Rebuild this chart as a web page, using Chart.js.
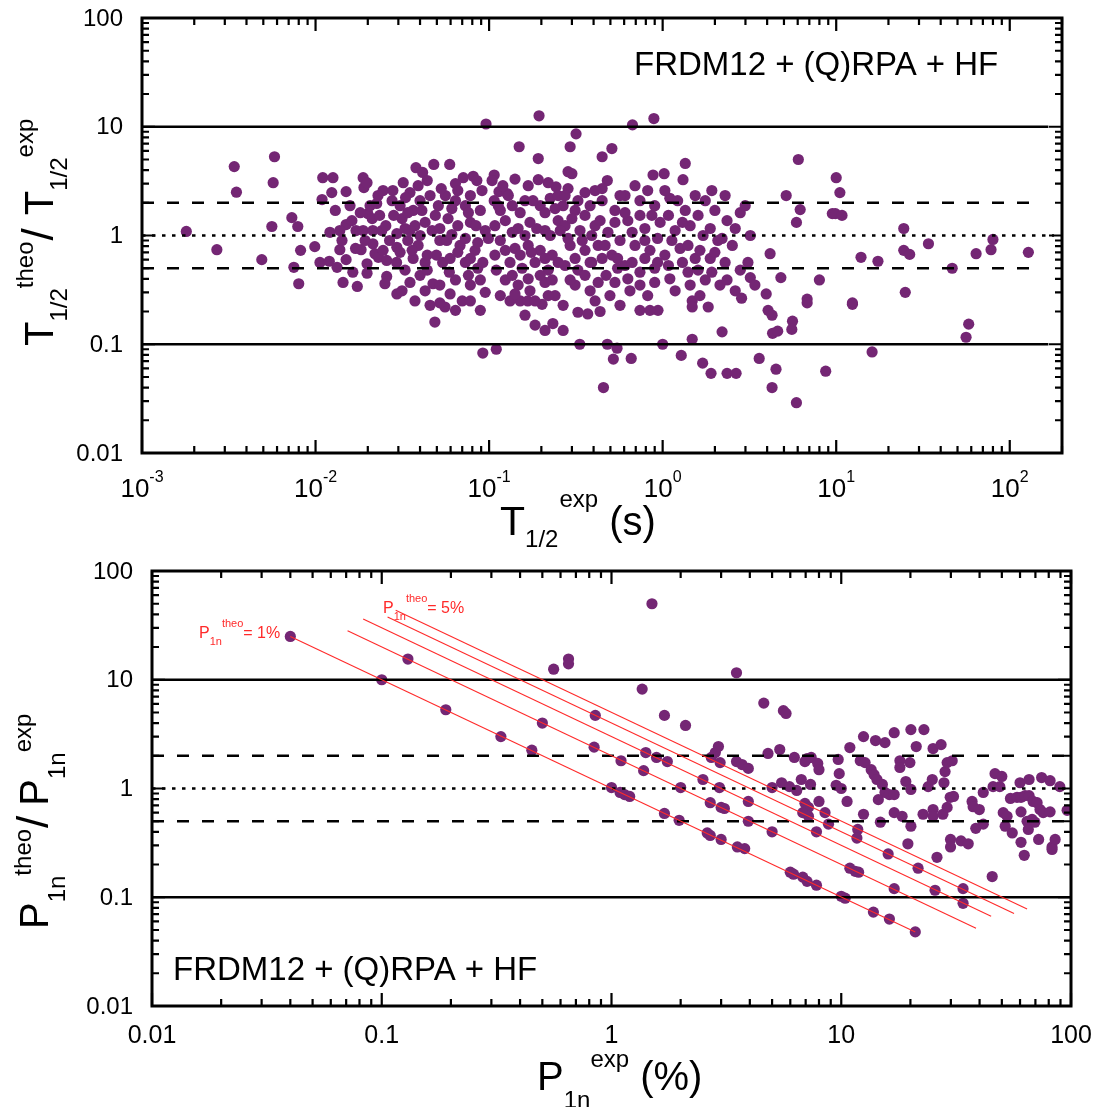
<!DOCTYPE html>
<html><head><meta charset="utf-8">
<script src="https://cdn.jsdelivr.net/npm/chart.js@4.4.1/dist/chart.umd.min.js"></script>
<style>
html,body{margin:0;padding:0;background:#fff;}
#wrap{position:relative;width:1101px;height:1107px;overflow:hidden;}
.pane{position:absolute;left:0;width:1101px;}
</style></head><body>
<div id="wrap">
<div class="pane" style="top:0;height:550px"><canvas id="c1" width="1101" height="550"></canvas></div>
<div class="pane" style="top:550px;height:557px"><canvas id="c2" width="1101" height="557"></canvas></div>
</div>
<script>
const FONT = '"Liberation Sans", Arial, Helvetica, sans-serif';
const PURPLE = '#742674';
const RED = '#ff2a2a';

// ---------- Top panel: T1/2 ----------
const t12Exp = [
0.0018,0.0027,0.0034,0.0035,0.0049,0.0057,0.0058,0.0056,0.0073,0.0079,0.0075,0.0080,0.0082,0.0099,
0.0106,0.0120,0.0133,0.0109,0.0110,0.0126,0.0124,0.0150,0.0150,0.0138,0.0142,0.0150,0.0174,0.0183,0.0188,0.0190,0.0198,
0.0171,0.0188,0.0198,0.0198,0.0214,0.0241,0.0200,0.0206,0.0225,0.0245,0.0279,0.0276,0.0214,0.0220,0.0230,0.0245,0.0257,0.0257,0.0294,0.0294,0.0294,
0.096,0.194,0.317,0.293,0.149,0.192,0.448,0.51,0.67,0.89,1.35,1.31,0.88,1.02,
0.0379,0.0414,0.0480,0.0593,0.107,0.192,0.285,0.30,0.285,0.243,0.48,0.357,0.448,0.071,0.081,0.085,0.064,0.114,0.107,0.127,0.035,0.033,
6.05,10.0,10.5,5.15,6.2,5.9,9.5,9.9,10.8,3.2,4.16,3.2,4.8,3.95,6.8,8.0,12.4,13.9,17.4,24.5,24.5,26.5,34,25,46.6,64,78,80,128,
4.05,4.27,6.8,12.4,5.6,5.55,4.3,4.6,3.6,4.5,4.27,5.9,8.7,16.1,58,56,
0.0557,0.0487,0.092,0.11,0.151,0.167,0.202,0.267,0.325,0.37,0.436,0.233,0.21,0.267,0.333,0.48,0.546,0.52,0.659,0.456,0.94,1.0,1.28,1.48,1.48,1.83,1.48,1.70,1.90,2.2,2.35,2.65,
0.0307,0.0365,0.040,0.0457,0.051,0.0315,0.0374,0.0428,0.047,0.052,0.034,0.039,0.0307,0.0365,0.0428,0.0497,0.0328,0.040,0.0475,0.0315,0.0374,0.052,0.044,0.035,
0.056,0.064,0.073,0.089,0.058,0.066,0.078,0.095,0.057,0.068,0.083,0.099,0.0596,0.073,0.086,0.064,0.078,0.095,0.070,0.089,0.059,
0.116,0.136,0.161,0.197,0.225,0.124,0.147,0.172,0.21,0.25,0.116,0.141,0.168,0.197,0.231,0.132,0.155,0.184,0.219,0.124,0.147,0.172,0.21,0.24,0.132,
0.267,0.313,0.382,0.448,0.531,0.274,0.334,0.408,0.484,0.293,0.357,0.425,0.51,0.274,0.325,0.39,0.472,0.55,0.313,0.382,0.497,
0.607,0.74,0.90,1.10,1.35,0.63,0.79,0.967,1.18,1.44,0.693,0.845,1.03,1.26,1.54,0.607,0.74,0.90,1.10,1.40,0.648,0.82,0.74,
1.76,2.0,2.35,2.8,1.71,2.08,2.52,1.88,2.29,2.8,1.76,2.14,2.62,1.92,
0.0130,0.0138,0.0158,0.0162,0.0170,0.0181,0.0193,0.0212,0.0234,0.0254,0.0267,0.0282,0.0293,0.0251,0.0229,0.0164,0.0144,0.0121,
0.032,0.039,0.044,0.053,0.066,0.078,0.091,0.034,0.041,0.049,0.061,0.076,0.084,0.0328,0.040,0.052,0.061,0.073,0.086,
0.036,0.044,0.054,0.066,0.078,0.092,0.035,0.0428,0.052,0.0596,0.076,0.089,0.0457,0.064,0.078,
0.104,0.12,0.141,0.168,0.219,0.25,0.113,0.129,0.151,0.179,0.21,0.24,0.108,0.136,0.161,0.188,0.225,0.257,
0.108,0.124,0.151,0.175,0.21,0.25,0.11,0.136,0.168,0.197,0.231,0.116,0.141,0.184,0.219,0.161,0.184,
0.274,0.325,0.408,0.568,0.693,0.82,0.30,0.357,0.436,0.531,0.607,0.74,0.867,0.285,0.344,0.39,0.466,0.568,0.667,0.79,0.935,
0.313,0.382,0.448,0.55,0.667,0.79,0.935,0.293,0.357,0.425,0.531,0.63,0.74,0.90,0.408,0.568,0.845,
1.03,1.22,1.54,2.29,2.99,1.08,1.30,1.60,1.88,2.2,2.62,1.13,1.40,1.64,2.0,3.1,1.08,1.30,1.60,1.92,2.35,1.18,1.44,1.64,2.85,3.4
];
const t12Ratio = [
1.09,0.74,4.3,2.5,0.60,3.06,5.3,1.21,1.46,1.21,0.51,0.36,0.73,0.79,
0.565,0.58,0.51,2.14,3.4,3.4,2.48,2.53,1.26,0.74,0.90,0.60,0.34,0.74,3.4,2.76,3.06,
1.11,1.11,0.55,0.45,1.11,1.11,1.59,1.88,1.97,2.59,2.59,2.09,0.84,0.68,0.63,0.73,0.59,0.42,0.29,1.04,0.78,
10.6,12.6,8.6,6.55,6.55,5.1,5.3,6.3,10.4,11.9,4.6,3.26,3.6,3.7,
4.2,3.8,4.5,4.5,3.6,3.26,3.86,3.7,2.7,2.8,3.2,2.48,2.7,3.4,3.5,3.2,3.0,2.53,2.09,2.43,2.48,2.23,
5.0,3.4,2.48,2.33,1.73,1.32,1.59,1.59,1.53,1.0,0.68,0.41,0.41,0.29,0.26,0.39,0.24,0.63,0.58,1.16,0.73,0.67,0.84,0.30,0.50,0.68,0.74,0.92,0.70,
0.205,0.185,0.24,0.233,0.163,0.137,0.126,0.132,0.074,0.059,0.040,0.029,0.0565,0.085,0.153,0.116,
0.22,0.16,0.083,0.09,0.25,0.25,0.233,0.228,0.197,0.19,0.20,0.155,0.134,0.134,0.10,0.10,0.092,0.073,0.074,0.040,0.205,0.10,0.079,0.25,0.22,0.22,0.111,0.067,0.054,0.13,0.054,0.054,
1.88,1.70,2.09,2.33,1.88,1.43,1.23,1.32,1.11,0.90,0.90,0.81,0.70,0.615,0.565,0.66,0.48,0.43,0.36,0.31,0.25,0.24,0.48,1.11,
2.33,2.09,1.88,1.70,1.43,1.23,1.32,1.11,0.90,0.81,0.73,0.94,0.615,0.565,0.50,0.39,0.35,0.30,0.25,0.205,0.46,
1.70,1.88,2.09,1.88,2.2,1.37,1.16,1.32,1.11,1.37,0.90,0.76,0.81,0.73,0.66,0.565,0.50,0.565,0.48,0.39,0.35,0.31,0.37,0.28,0.25,
1.88,1.70,1.88,2.09,1.70,1.23,1.11,1.23,1.07,0.81,0.73,0.81,0.66,0.53,0.48,0.565,0.43,0.50,0.35,0.31,0.28,
2.33,2.09,1.88,2.2,1.70,1.37,1.16,1.32,1.11,1.23,0.81,0.73,0.66,0.76,0.615,0.53,0.46,0.50,0.40,0.46,0.31,0.28,0.205,
2.09,1.70,1.37,1.62,1.0,0.90,0.81,0.615,0.565,0.48,0.39,0.35,0.31,2.59,
1.70,1.11,1.88,1.37,0.76,1.62,0.90,1.43,1.53,1.23,0.90,1.53,0.565,0.36,2.33,0.46,0.37,1.07,
3.06,2.87,3.2,2.7,2.59,2.33,2.59,1.62,1.70,1.53,1.77,1.62,1.23,1.16,1.0,1.16,1.02,0.94,0.86,
0.73,0.66,0.565,0.70,0.615,0.565,0.37,0.31,0.35,0.29,0.43,0.39,0.228,0.205,0.25,
3.2,2.87,3.3,2.87,3.06,2.33,1.88,2.33,1.62,2.09,1.62,1.77,1.23,1.07,1.0,1.16,1.0,1.11,
0.66,0.73,0.66,0.70,0.615,0.565,0.48,0.43,0.40,0.43,0.39,0.28,0.29,0.25,0.28,0.185,0.15,
2.33,2.09,2.59,2.33,2.87,2.59,1.43,1.53,1.37,1.32,1.62,1.53,1.53,0.94,0.90,1.0,0.81,0.90,1.07,0.90,0.94,
0.615,0.565,0.615,0.615,0.565,0.615,0.565,0.39,0.43,0.37,0.37,0.40,0.35,0.37,0.25,0.228,0.205,
2.59,2.09,2.33,2.33,1.88,1.53,1.32,1.53,1.16,0.94,1.16,0.90,0.81,0.73,0.70,0.565,0.53,0.565,0.48,0.46,0.39,0.31,0.35,0.28,0.265,0.35
];

// ---------- Bottom panel: P1n ----------
const p1nExp = [
0.040,0.10,0.13,0.19,0.33,0.45,0.50,0.56,0.65,0.65,0.85,0.84,1.0,1.09,1.14,1.2,1.1,1.36,1.41,1.38,1.57,1.75,1.7,1.5,2.1,1.7,1.97,2.0,
2.5,2.72,2.83,2.92,2.97,2.95,2.69,3.0,3.1,2.61,2.69,3.0,3.5,3.5,3.7,3.94,3.94,3.94,3.53,3.8,
4.6,5.6,5.75,4.8,5.4,6.25,5.0,5.5,5.95,6.4,5.0,6.7,6.95,7.1,7.4,7.9,8.0,7.35,6.95,7.2,8.0,6.8,7.2,8.5,8.8,7.8,
9.7,9.8,9.5,10,10.6,10.9,12.5,14.1,15.5,17.0,20.1,22.9,21.2,25.1,27.2,12.1,12.7,13.5,13.9,14.3,15.1,15.5,16.2,17.0,14.5,12.5,11.8,11.7,14.8,17.0,18.4,
18.0,18.0,19.9,19.1,20.1,20.1,19.5,22.7,25.1,25.1,23.9,24.9,27.7,28.3,28.9,30.4,28.0,29.8,30.8,28.9,29.9,29.9,33.2,35.7,37.1,37.5,39.9,41.5,38.5,41.5,
46.7,50.0,45.8,49.0,50.7,52.7,51.7,55.5,60.6,54.5,58.2,60.6,63.1,65.7,68.4,71.2,60.0,65.7,60.6,64.4,67.7,69.6,65.2,73.3,75.7,81.1,74.5,81.1,72.3,82.7,85.3,89.4,96.2,
6.0,6.2,6.8,7.1,7.8,10.0,10.4,13.8,16.2,21.0,10.9,11.5,11.9,17.0,16.0,21.6,26.1,25.6,33.9,33.9,45.4,62.6,82.7
];
const p1nRatio = [
25,10,15.5,5.3,3.0,2.25,4.0,12.5,15.5,14.0,4.7,2.4,1.02,0.92,0.88,0.845,1.8,8.2,2.14,1.46,1.93,1.77,4.7,50,3.8,0.59,0.51,1.02,
1.21,1.93,2.14,2.43,1.73,1.02,0.74,0.67,0.655,0.39,0.37,0.34,11.6,1.77,1.66,1.53,0.76,0.50,0.29,0.28,
6.1,5.2,4.9,2.1,2.28,1.93,1.02,1.13,1.04,0.96,0.40,1.21,1.77,1.88,1.93,1.70,1.49,1.09,0.73,0.67,0.76,0.60,0.555,0.60,0.47,0.40,
1.85,1.37,1.07,1.0,0.76,2.38,3.0,2.76,2.64,3.26,3.48,3.48,2.43,2.33,2.53,1.8,1.73,1.49,1.34,1.21,1.09,0.92,0.88,0.88,0.79,0.58,0.42,0.35,0.49,0.60,0.555,
1.8,1.56,1.73,1.16,0.98,0.45,0.31,0.58,0.64,0.555,1.04,1.21,0.58,1.43,1.73,1.8,1.13,0.83,0.845,0.67,0.34,0.29,0.33,0.31,0.76,0.68,0.64,0.92,0.43,0.47,
1.37,1.29,1.04,1.04,0.60,0.555,0.45,0.39,0.32,0.81,0.83,0.83,0.86,0.86,0.76,0.74,1.13,1.21,0.61,0.50,0.52,0.49,0.42,0.64,0.60,0.61,1.26,1.18,0.34,0.29,0.34,1.04,0.63,
0.17,0.163,0.153,0.14,0.129,0.102,0.098,0.073,0.063,0.048,0.185,0.173,0.17,0.12,0.25,0.185,0.233,0.116,0.12,0.088,0.155,0.243,0.275
];

// constant P1n(theo) guide lines (start / end of each drawn segment)
const p1nTheoLevel = ['1%','2%','3%','4%','5%'];
const p1nTheoX0 = [0.040, 0.071, 0.083, 0.106, 0.115];
const p1nTheoY0 = [25, 28.2, 36.1, 37.7, 43.5];
const p1nTheoX1 = [21, 38.6, 44.9, 56.5, 64.4];
const p1nTheoY1 = [0.048, 0.052, 0.067, 0.071, 0.078];

// reference ratio levels
const refLevels = [10, 2, 1, 0.5, 0.1];
const refKinds  = ['solid', 'dash', 'dot', 'dash', 'solid'];
const refTopXEnd = [167, 140, 180, 140, 167];
const refBotXEnd = [100, 100, 100, 100, 100];

// axis ranges and tick labels
const topXRange = [0.001, 200];
const ratioRange = [0.01, 100];
const botXRange = [0.01, 100];
const topXTickVals = [0.001, 0.01, 0.1, 1, 10, 100];
const topXTickExp  = ['-3', '-2', '-1', '0', '1', '2'];
const ratioTickVals = [0.01, 0.1, 1, 10, 100];
const ratioTickText = ['0.01', '0.1', '1', '10', '100'];
const botXTickVals = [0.01, 0.1, 1, 10, 100];
const botXTickText = ['0.01', '0.1', '1', '10', '100'];

function pts(xs, ys) { return xs.map((v, i) => ({x: v, y: ys[i]})); }

function refDatasets(x0, xEnds) {
  return refLevels.map((lv, i) => ({
    type: 'scatter', showLine: true, order: 0,
    data: [{x: x0, y: lv}, {x: xEnds[i], y: lv}],
    borderColor: '#000', borderWidth: refKinds[i] === 'solid' ? 2.4 : 2.6,
    borderDash: refKinds[i] === 'dash' ? [12, 13] : (refKinds[i] === 'dot' ? [3.5, 6.5] : []),
    pointRadius: 0, fill: false, tension: 0
  }));
}

function logMarks(min, max) {
  const out = [];
  for (let e = Math.floor(Math.log10(min)) - 1; e <= Math.ceil(Math.log10(max)); e++) {
    for (let m = 1; m <= 9; m++) {
      const v = m * Math.pow(10, e);
      if (v >= min * 0.9999 && v <= max * 1.0001) out.push({v, major: m === 1});
    }
  }
  return out;
}

function rich(ctx, x, y, parts, rotate) {
  ctx.save();
  ctx.translate(x, y);
  if (rotate) ctx.rotate(-Math.PI / 2);
  ctx.textAlign = 'left';
  ctx.textBaseline = 'alphabetic';
  let u = 0;
  for (const p of parts) {
    ctx.font = p.size + 'px ' + FONT;
    ctx.fillStyle = p.color || '#000';
    u += p.gap || 0;
    ctx.fillText(p.t, u, p.dy || 0);
    u += ctx.measureText(p.t).width;
  }
  ctx.restore();
}
function richWidth(ctx, parts) {
  let w = 0;
  for (const p of parts) { ctx.font = p.size + 'px ' + FONT; w += (p.gap || 0) + ctx.measureText(p.t).width; }
  return w;
}

function drawFrame(chart) {
  const {ctx, chartArea: a, scales: {x, y}} = chart;
  ctx.save();
  ctx.strokeStyle = '#000';
  ctx.lineWidth = 2.2;
  ctx.beginPath();
  for (const t of logMarks(x.min, x.max)) {
    const px = x.getPixelForValue(t.v);
    const L = t.major ? 13 : 7;
    ctx.moveTo(px, a.bottom); ctx.lineTo(px, a.bottom - L);
    ctx.moveTo(px, a.top); ctx.lineTo(px, a.top + L);
  }
  for (const t of logMarks(y.min, y.max)) {
    const py = y.getPixelForValue(t.v);
    const L = t.major ? 13 : 7;
    ctx.moveTo(a.left, py); ctx.lineTo(a.left + L, py);
    ctx.moveTo(a.right, py); ctx.lineTo(a.right - L, py);
  }
  ctx.stroke();
  ctx.lineWidth = 3;
  ctx.strokeRect(a.left, a.top, a.right - a.left, a.bottom - a.top);
  ctx.restore();
}

function yTickLabels(chart, rightEdge) {
  const {ctx, scales: {y}} = chart;
  ctx.save();
  ctx.font = '24px ' + FONT;
  ctx.fillStyle = '#000';
  ctx.textAlign = 'right';
  ctx.textBaseline = 'middle';
  ratioTickVals.forEach((v, i) => ctx.fillText(ratioTickText[i], rightEdge, y.getPixelForValue(v) + 1));
  ctx.restore();
}

const baseOpts = (xr, pad) => ({
  responsive: false, animation: false, devicePixelRatio: 1, events: [],
  layout: {padding: pad},
  plugins: {legend: {display: false}, tooltip: {enabled: false}, title: {display: false}},
  scales: {
    x: {type: 'logarithmic', min: xr[0], max: xr[1], display: false},
    y: {type: 'logarithmic', min: ratioRange[0], max: ratioRange[1], display: false}
  }
});

// ---------- Chart 1 ----------
const topPlugin = {
  id: 'topDecor',
  afterDatasetsDraw(chart) {
    const ctx = chart.ctx, x = chart.scales.x;
    drawFrame(chart);
    yTickLabels(chart, 123);
    topXTickVals.forEach((v, i) => {
      const parts = [{t: '10', size: 26}, {t: topXTickExp[i], size: 16, dy: -15}];
      const w = richWidth(ctx, parts);
      rich(ctx, x.getPixelForValue(v) - w / 2, 497, parts, false);
    });
    rich(ctx, 500, 535, [{t: 'T', size: 41}, {t: '1/2', size: 24, dy: 12}, {t: 'exp', size: 24, dy: -28, gap: 1}, {t: ' (s)', size: 40}], false);
    rich(ctx, 53, 346, [{t: 'T', size: 40}, {t: '1/2', size: 24, dy: 14}, {t: 'theo', size: 24, dy: -20},
      {t: '/', size: 44, gap: 1}, {t: 'T', size: 40, gap: 13}, {t: '1/2', size: 24, dy: 14}, {t: 'exp', size: 24, dy: -20}], true);
    ctx.save();
    ctx.font = '33px ' + FONT; ctx.fillStyle = '#000'; ctx.textAlign = 'left'; ctx.textBaseline = 'alphabetic';
    ctx.fillText('FRDM12 + (Q)RPA + HF', 634, 75);
    ctx.restore();
  }
};

new Chart(document.getElementById('c1'), {
  type: 'scatter',
  data: {datasets: [
    ...refDatasets(topXRange[0], refTopXEnd),
    {type: 'scatter', order: 1, data: pts(t12Exp, t12Ratio), pointRadius: 5.6, pointBackgroundColor: PURPLE, pointBorderWidth: 0, showLine: false}
  ]},
  options: baseOpts(topXRange, {left: 142, right: 39, top: 18, bottom: 97}),
  plugins: [topPlugin]
});

// ---------- Chart 2 ----------
const botPlugin = {
  id: 'botDecor',
  afterDatasetsDraw(chart) {
    const ctx = chart.ctx, x = chart.scales.x;
    drawFrame(chart);
    yTickLabels(chart, 133);
    ctx.save();
    ctx.font = '25px ' + FONT; ctx.fillStyle = '#000'; ctx.textAlign = 'center'; ctx.textBaseline = 'alphabetic';
    botXTickVals.forEach((v, i) => ctx.fillText(botXTickText[i], x.getPixelForValue(v), 493));
    ctx.restore();
    rich(ctx, 537, 540, [{t: 'P', size: 40}, {t: '1n', size: 24, dy: 18}, {t: 'exp', size: 24, dy: -23}, {t: ' (%)', size: 40}], false);
    rich(ctx, 48, 379, [{t: 'P', size: 40}, {t: '1n', size: 24, dy: 17}, {t: 'theo', size: 24, dy: -17},
      {t: '/', size: 44, gap: 1}, {t: 'P', size: 40, gap: 10}, {t: '1n', size: 24, dy: 17}, {t: 'exp', size: 24, dy: -17}], true);
    ctx.save();
    ctx.font = '33px ' + FONT; ctx.fillStyle = '#000'; ctx.textAlign = 'left'; ctx.textBaseline = 'alphabetic';
    ctx.fillText('FRDM12 + (Q)RPA + HF', 173, 430);
    ctx.restore();
    rich(ctx, 199, 88, [{t: 'P', size: 16, color: RED}, {t: '1n', size: 11, dy: 7, color: RED}, {t: 'theo', size: 11, dy: -11, color: RED}, {t: '= 1%', size: 16, color: RED}], false);
    rich(ctx, 383, 63, [{t: 'P', size: 16, color: RED}, {t: '1n', size: 11, dy: 7, color: RED}, {t: 'theo', size: 11, dy: -11, color: RED}, {t: '= 5%', size: 16, color: RED}], false);
  }
};

const theoLines = p1nTheoLevel.map((lv, i) => ({
  type: 'scatter', showLine: true, order: 0,
  data: [{x: p1nTheoX0[i], y: p1nTheoY0[i]}, {x: p1nTheoX1[i], y: p1nTheoY1[i]}],
  borderColor: RED, borderWidth: 1.1, pointRadius: 0, fill: false
}));

new Chart(document.getElementById('c2'), {
  type: 'scatter',
  data: {datasets: [
    ...theoLines,
    ...refDatasets(botXRange[0], refBotXEnd),
    {type: 'scatter', order: 1, data: pts(p1nExp, p1nRatio), pointRadius: 5.6, pointBackgroundColor: PURPLE, pointBorderWidth: 0, showLine: false}
  ]},
  options: baseOpts(botXRange, {left: 152, right: 30, top: 21, bottom: 101}),
  plugins: [botPlugin]
});
</script>
</body></html>
